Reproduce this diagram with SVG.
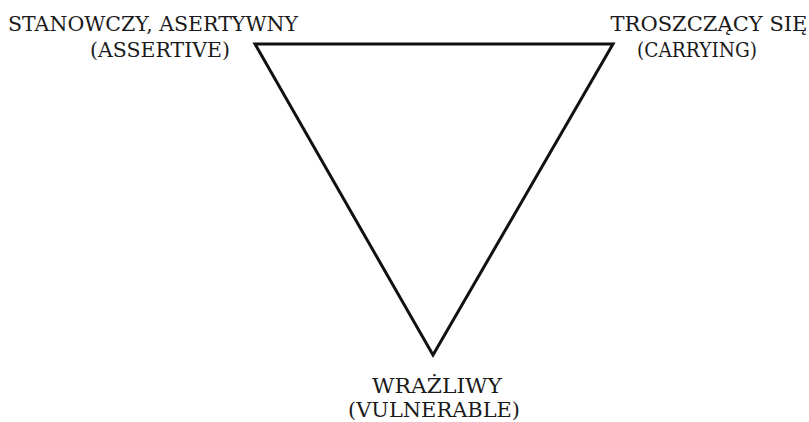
<svg xmlns="http://www.w3.org/2000/svg" width="809" height="422" viewBox="0 0 809 422">
<style>
text{font-family:'DejaVu Serif',serif;font-size:20.5px;fill:#1a1a1a;text-anchor:middle}
.edge{fill:none;stroke:#111;stroke-width:3;stroke-linejoin:miter}
</style>
<rect width="809" height="422" fill="#fff"/>
<g id="connectors">
<polygon class="edge" points="255,44 613,44 433,355"/>
</g>
<g id="node-assertive">
<text x="153" y="31" textLength="290" lengthAdjust="spacingAndGlyphs">STANOWCZY, ASERTYWNY</text>
<text x="160" y="57" textLength="140" lengthAdjust="spacingAndGlyphs">(ASSERTIVE)</text>
</g>
<g id="node-caring">
<text x="709" y="31" textLength="197" lengthAdjust="spacingAndGlyphs">TROSZCZĄCY SIĘ</text>
<text x="697" y="57" textLength="120" lengthAdjust="spacingAndGlyphs">(CARRYING)</text>
</g>
<g id="node-vulnerable">
<text x="437" y="393" textLength="130" lengthAdjust="spacingAndGlyphs">WRAŻLIWY</text>
<text x="434" y="417" textLength="172" lengthAdjust="spacingAndGlyphs">(VULNERABLE)</text>
</g>
</svg>
